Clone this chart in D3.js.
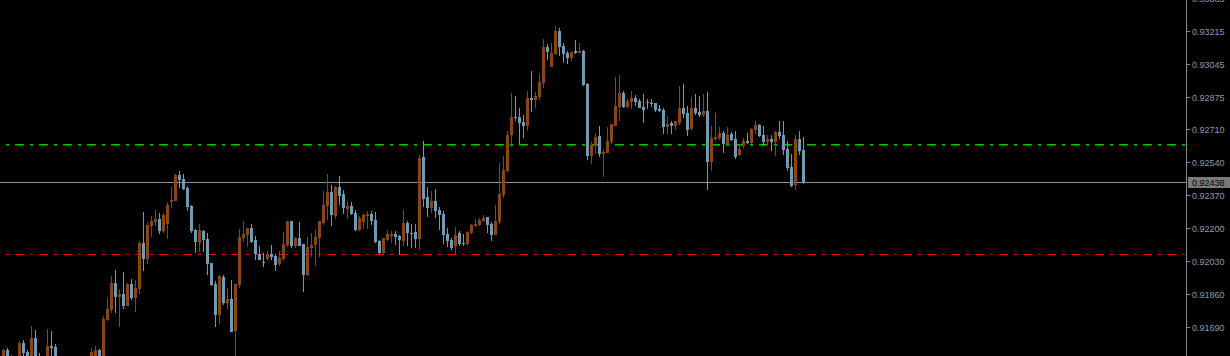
<!DOCTYPE html>
<html>
<head>
<meta charset="utf-8">
<script src="https://cdn.jsdelivr.net/npm/d3@7/dist/d3.min.js"></script>
<style>
  html, body { margin: 0; padding: 0; background: #000; overflow: hidden; }
  svg { display: block; }
  .axis-label { font-family: "Liberation Sans", Arial, sans-serif; font-size: 9px; fill: #8f9cae; }
</style>
</head>
<body>
<div id="chart"></div>
<script>
// OHLC per bar, oldest first
var opens = [0.91497,0.91574,0.91533,0.91497,0.91523,0.91610,0.91564,0.91512,0.91636,0.91533,
  0.91492,0.91512,0.91595,0.91589,0.91523,0.91481,0.91445,0.91471,0.91440,0.91481,
  0.91512,0.91471,0.91497,0.91543,0.91574,0.91533,0.91728,0.91780,0.91918,0.91846,
  0.91862,0.91800,0.91913,0.91841,0.91887,0.92124,0.92042,0.92211,0.92232,0.92247,
  0.92186,0.92222,0.92335,0.92340,0.92474,0.92453,0.92407,0.92314,0.92191,0.92124,
  0.92186,0.92144,0.92021,0.91913,0.91754,0.91949,0.91816,0.91836,0.91672,0.91908,
  0.92150,0.92165,0.92201,0.92139,0.92067,0.92026,0.92042,0.92067,0.92057,0.92016,
  0.92042,0.92114,0.92237,0.92109,0.92150,0.92119,0.91959,0.92098,0.92114,0.92150,
  0.92227,0.92314,0.92386,0.92263,0.92412,0.92376,0.92299,0.92314,0.92278,0.92191,
  0.92232,0.92263,0.92273,0.92242,0.92134,0.92073,0.92139,0.92160,0.92170,0.92160,
  0.92134,0.92227,0.92175,0.92181,0.92144,0.92566,0.92360,0.92304,0.92340,0.92294,
  0.92273,0.92170,0.92139,0.92109,0.92175,0.92124,0.92119,0.92175,0.92211,0.92216,
  0.92237,0.92258,0.92222,0.92165,0.92232,0.92371,0.92494,0.92679,0.92772,0.92772,
  0.92746,0.92725,0.92869,0.92859,0.92874,0.92946,0.93131,0.93029,0.93095,0.93214,
  0.93137,0.93101,0.93075,0.93111,0.93101,0.93111,0.92941,0.92571,0.92623,0.92674,
  0.92581,0.92587,0.92643,0.92725,0.92823,0.92895,0.92823,0.92849,0.92869,0.92854,
  0.92823,0.92849,0.92844,0.92844,0.92813,0.92808,0.92720,0.92741,0.92725,0.92741,
  0.92818,0.92792,0.92710,0.92818,0.92797,0.92782,0.92802,0.92540,0.92658,0.92664,
  0.92689,0.92633,0.92684,0.92658,0.92576,0.92623,0.92648,0.92638,0.92705,0.92730,
  0.92679,0.92643,0.92658,0.92643,0.92694,0.92679,0.92607,0.92515,0.92422,0.92658,
  0.92602];
var highs = [0.91579,0.91584,0.91548,0.91523,0.91620,0.91625,0.91574,0.91697,0.91677,0.91559,
  0.91533,0.91682,0.91672,0.91605,0.91533,0.91512,0.91492,0.91497,0.91502,0.91533,
  0.91523,0.91533,0.91584,0.91595,0.91579,0.91749,0.91841,0.91954,0.91985,0.91887,
  0.91975,0.91918,0.91939,0.91934,0.92134,0.92283,0.92232,0.92263,0.92294,0.92278,
  0.92278,0.92335,0.92412,0.92479,0.92494,0.92479,0.92417,0.92319,0.92196,0.92222,
  0.92191,0.92175,0.92021,0.91929,0.91959,0.91959,0.91893,0.91934,0.91913,0.92196,
  0.92237,0.92201,0.92222,0.92160,0.92109,0.92073,0.92083,0.92114,0.92067,0.92083,
  0.92181,0.92237,0.92237,0.92155,0.92232,0.92119,0.92155,0.92175,0.92196,0.92237,
  0.92391,0.92479,0.92422,0.92417,0.92468,0.92396,0.92340,0.92335,0.92294,0.92263,
  0.92278,0.92288,0.92288,0.92283,0.92139,0.92150,0.92191,0.92186,0.92186,0.92165,
  0.92294,0.92237,0.92222,0.92222,0.92576,0.92648,0.92412,0.92391,0.92402,0.92309,
  0.92288,0.92201,0.92150,0.92206,0.92186,0.92170,0.92186,0.92222,0.92247,0.92252,
  0.92268,0.92258,0.92232,0.92319,0.92535,0.92571,0.92700,0.92895,0.92880,0.92818,
  0.92782,0.92905,0.93008,0.92900,0.92993,0.93172,0.93147,0.93152,0.93239,0.93229,
  0.93152,0.93111,0.93106,0.93167,0.93152,0.93116,0.92946,0.92643,0.92689,0.92725,
  0.92607,0.92720,0.92736,0.92977,0.92987,0.92905,0.92864,0.92905,0.92885,0.92864,
  0.92890,0.92864,0.92864,0.92844,0.92833,0.92818,0.92777,0.92751,0.92751,0.92931,
  0.92941,0.92828,0.92874,0.92890,0.92880,0.92890,0.92900,0.92725,0.92792,0.92720,
  0.92700,0.92720,0.92694,0.92700,0.92633,0.92664,0.92689,0.92715,0.92751,0.92736,
  0.92725,0.92679,0.92679,0.92700,0.92751,0.92751,0.92648,0.92581,0.92679,0.92700,
  0.92669];
var lows = [0.91471,0.91481,0.91471,0.91440,0.91497,0.91533,0.91492,0.91492,0.91502,0.91492,
  0.91471,0.91492,0.91523,0.91502,0.91461,0.91420,0.91420,0.91420,0.91420,0.91461,
  0.91445,0.91461,0.91481,0.91523,0.91512,0.91523,0.91723,0.91764,0.91764,0.91692,
  0.91785,0.91800,0.91831,0.91769,0.91862,0.91980,0.92016,0.92155,0.92211,0.92170,
  0.92175,0.92144,0.92304,0.92340,0.92407,0.92396,0.92288,0.92175,0.92073,0.92078,
  0.92078,0.91959,0.91903,0.91692,0.91708,0.91805,0.91785,0.91667,0.91523,0.91893,
  0.92129,0.92103,0.92124,0.92037,0.92037,0.92001,0.92037,0.92037,0.91980,0.92006,
  0.92031,0.92103,0.92098,0.92098,0.92109,0.91872,0.91954,0.92052,0.92006,0.92052,
  0.92216,0.92242,0.92211,0.92247,0.92319,0.92273,0.92247,0.92268,0.92186,0.92186,
  0.92196,0.92196,0.92216,0.92124,0.92067,0.92067,0.92134,0.92124,0.92114,0.92062,
  0.92109,0.92109,0.92098,0.92098,0.92088,0.92309,0.92258,0.92278,0.92252,0.92191,
  0.92119,0.92103,0.92088,0.92067,0.92109,0.92109,0.92109,0.92170,0.92206,0.92211,
  0.92232,0.92175,0.92134,0.92165,0.92222,0.92355,0.92489,0.92617,0.92751,0.92633,
  0.92664,0.92700,0.92797,0.92818,0.92859,0.92921,0.93065,0.93029,0.93090,0.93085,
  0.93049,0.93044,0.93059,0.93095,0.93101,0.92931,0.92551,0.92530,0.92581,0.92566,
  0.92463,0.92587,0.92633,0.92725,0.92751,0.92818,0.92818,0.92813,0.92828,0.92818,
  0.92741,0.92813,0.92823,0.92797,0.92797,0.92684,0.92684,0.92684,0.92705,0.92730,
  0.92766,0.92674,0.92705,0.92782,0.92772,0.92772,0.92396,0.92494,0.92648,0.92653,
  0.92587,0.92623,0.92648,0.92556,0.92571,0.92612,0.92633,0.92633,0.92684,0.92669,
  0.92623,0.92628,0.92597,0.92571,0.92658,0.92576,0.92494,0.92412,0.92396,0.92576,
  0.92427];
var closes = [0.91574,0.91512,0.91497,0.91461,0.91610,0.91559,0.91512,0.91636,0.91523,0.91512,
  0.91523,0.91595,0.91584,0.91523,0.91481,0.91445,0.91471,0.91440,0.91481,0.91512,
  0.91471,0.91497,0.91564,0.91574,0.91533,0.91733,0.91785,0.91918,0.91846,0.91862,
  0.91800,0.91913,0.91841,0.91893,0.92124,0.92042,0.92216,0.92237,0.92247,0.92186,
  0.92268,0.92319,0.92345,0.92474,0.92448,0.92402,0.92309,0.92186,0.92129,0.92191,
  0.92139,0.92016,0.91908,0.91754,0.91954,0.91816,0.91836,0.91667,0.91913,0.92155,
  0.92170,0.92201,0.92129,0.92067,0.92037,0.92021,0.92067,0.92052,0.92011,0.92047,
  0.92119,0.92237,0.92109,0.92150,0.92109,0.91959,0.92103,0.92114,0.92155,0.92237,
  0.92319,0.92386,0.92268,0.92412,0.92366,0.92304,0.92314,0.92273,0.92191,0.92252,
  0.92268,0.92273,0.92237,0.92129,0.92073,0.92150,0.92170,0.92170,0.92155,0.92139,
  0.92227,0.92175,0.92170,0.92144,0.92561,0.92350,0.92304,0.92340,0.92288,0.92268,
  0.92165,0.92134,0.92098,0.92165,0.92119,0.92119,0.92181,0.92216,0.92222,0.92242,
  0.92252,0.92216,0.92165,0.92237,0.92376,0.92499,0.92679,0.92772,0.92766,0.92741,
  0.92725,0.92869,0.92859,0.92880,0.92951,0.93131,0.93106,0.93101,0.93214,0.93131,
  0.93095,0.93075,0.93106,0.93101,0.93111,0.92936,0.92571,0.92628,0.92669,0.92581,
  0.92592,0.92648,0.92736,0.92828,0.92895,0.92823,0.92854,0.92869,0.92849,0.92818,
  0.92808,0.92844,0.92838,0.92808,0.92802,0.92720,0.92736,0.92725,0.92751,0.92818,
  0.92787,0.92705,0.92818,0.92792,0.92782,0.92802,0.92540,0.92664,0.92669,0.92689,
  0.92633,0.92679,0.92653,0.92566,0.92607,0.92648,0.92638,0.92710,0.92730,0.92674,
  0.92643,0.92658,0.92643,0.92694,0.92674,0.92602,0.92510,0.92417,0.92658,0.92597,
  0.92438];

var tickValues = [0.93385,0.93215,0.93045,0.92875,0.92710,0.92540,0.92370,0.92200,0.92030,0.91860,0.91690];

var bidPrice = 0.92438;
var greenLevel = 0.92634;
var greenRedLevel = 0.92628;
var redLevel = 0.92067;

var width = 1230, height = 356;
var plotRight = 1186;

var svg = d3.select("#chart").append("svg")
    .attr("width", width)
    .attr("height", height);

svg.append("rect").attr("width", width).attr("height", height).attr("fill", "#000");

var y = d3.scaleLinear()
    .domain([0.91690, 0.93215])
    .range([327.3, 31]);

var x = d3.scaleLinear()
    .domain([0, opens.length - 1])
    .range([3.5, 3.5 + 4 * (opens.length - 1)]);

var bars = opens.map(function(o, i) {
    return {o: o, h: highs[i], l: lows[i], c: closes[i], i: i};
});

function py(v) { return Math.round(y(v)) + 0.5; }

// level lines
var dash = "9,6,3,6";
function level(v, color) {
    svg.append("line")
        .attr("x1", -9).attr("x2", plotRight)
        .attr("y1", py(v)).attr("y2", py(v))
        .attr("stroke", color)
        .attr("stroke-width", 1)
        .attr("stroke-dasharray", dash)
        .attr("shape-rendering", "crispEdges");
}
level(greenRedLevel, "#e00000");
level(greenLevel, "#00c000");
level(redLevel, "#f00000");

// bid line
svg.append("line")
    .attr("x1", 0).attr("x2", plotRight)
    .attr("y1", py(bidPrice)).attr("y2", py(bidPrice))
    .attr("stroke", "#8894a2")
    .attr("shape-rendering", "crispEdges");

var bull = "#8b4513", bear = "#6c9db4";

var g = svg.append("g").attr("shape-rendering", "crispEdges");

g.selectAll(".wick")
  .data(bars)
  .enter().append("line")
    .attr("class", "wick")
    .attr("x1", function(d) { return x(d.i); })
    .attr("x2", function(d) { return x(d.i); })
    .attr("y1", function(d) { return y(d.h); })
    .attr("y2", function(d) { return y(d.l); })
    .attr("stroke", function(d) { return d.c >= d.o ? bull : bear; });

g.selectAll(".body")
  .data(bars)
  .enter().append("rect")
    .attr("class", "body")
    .attr("x", function(d) { return x(d.i) - 1.5; })
    .attr("width", 3)
    .attr("y", function(d) { return Math.round(y(Math.max(d.o, d.c))); })
    .attr("height", function(d) {
        return Math.max(1, Math.round(y(Math.min(d.o, d.c))) - Math.round(y(Math.max(d.o, d.c))));
    })
    .attr("fill", function(d) { return d.c >= d.o ? bull : bear; });

// price axis
var axis = svg.append("g").attr("transform", "translate(" + plotRight + ",0)");
axis.append("line")
    .attr("x1", 0.5).attr("x2", 0.5)
    .attr("y1", 0).attr("y2", height)
    .attr("stroke", "#8a8a8a");

var ticks = axis.selectAll(".tick")
  .data(tickValues)
  .enter().append("g")
    .attr("transform", function(d) { return "translate(0," + py(d) + ")"; });

ticks.append("line")
    .attr("x1", 1).attr("x2", 4)
    .attr("stroke", "#8a8a8a")
    .attr("shape-rendering", "crispEdges");

ticks.append("text")
    .attr("class", "axis-label")
    .attr("x", 6)
    .attr("dy", "0.35em")
    .text(function(d) { return d.toFixed(5); });

// current price tag
var tag = axis.append("g").attr("transform", "translate(0," + py(bidPrice) + ")");
tag.append("rect")
    .attr("x", 2).attr("y", -5.5)
    .attr("width", 42).attr("height", 11)
    .attr("fill", "#7a7a7a");
tag.append("text")
    .attr("class", "axis-label")
    .attr("x", 6)
    .attr("dy", "0.35em")
    .style("fill", "#000")
    .text(bidPrice.toFixed(5));
</script>
</body>
</html>
